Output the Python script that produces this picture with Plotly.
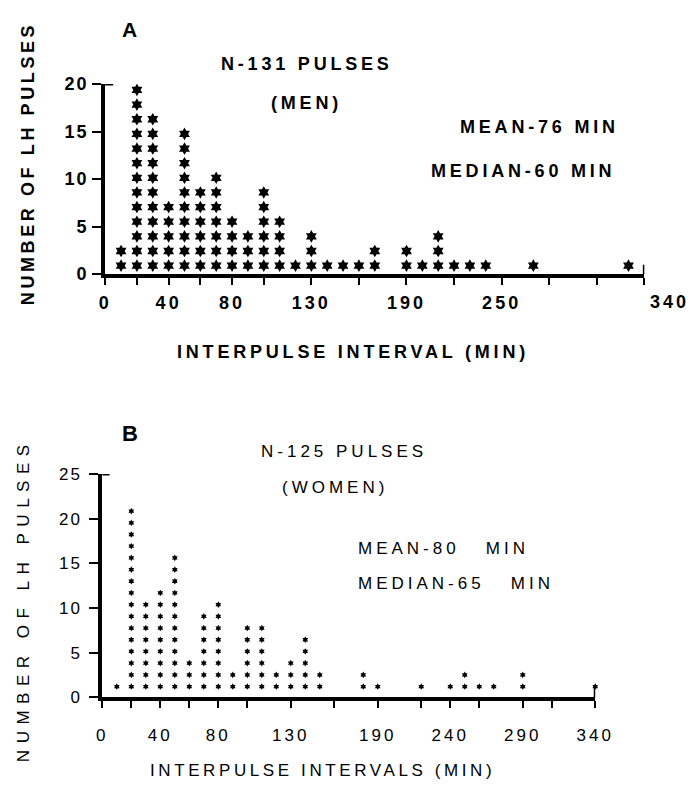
import plotly.graph_objects as go

# ---------------- data ----------------
# Panel A (men): interpulse interval bins (min) and number of asterisks stacked in each bin
men_interval = [10, 20, 30, 40, 50, 60, 70, 80, 90, 100, 110, 120, 130, 140, 150, 160,
                170, 190, 200, 210, 220, 230, 240, 270, 330]
men_stars = [2, 13, 11, 5, 10, 6, 7, 4, 3, 6, 4, 1, 3, 1, 1, 1,
             2, 2, 1, 3, 1, 1, 1, 1, 1]

# Panel B (women)
women_interval = [10, 20, 30, 40, 50, 60, 70, 80, 90, 100, 110, 120, 130, 140, 150,
                  180, 190, 220, 240, 250, 260, 270, 290, 340]
women_stars = [1, 16, 8, 9, 12, 3, 7, 8, 2, 6, 6, 2, 3, 5, 2,
               2, 1, 1, 1, 2, 1, 1, 2, 1]

a_ytick_vals = [0, 5, 10, 15, 20]
a_xtick_vals = [0, 20, 40, 60, 80, 100, 130, 160, 190, 220, 250, 280, 310, 340]
a_xtick_labels = ["0", "", "40", "", "80", "", "130", "", "190", "", "250", "", "", ""]
a_last_label = "340"

b_ytick_vals = [0, 5, 10, 15, 20, 25]
b_xtick_vals = [0, 20, 40, 60, 80, 100, 130, 160, 190, 220, 240, 260, 290, 310, 340]
b_xtick_labels = ["0", "", "40", "", "80", "", "130", "", "190", "", "240", "", "290", "", "340"]

# ---------------- styling helpers ----------------
W, H = 698, 795
FONT = "Liberation Sans"


def ls(text, sp):
    return '<span style="letter-spacing:%spx">%s</span>' % (sp, text)


def px(x):
    return x / W


def py(y):
    return 1 - y / H


def stack(intervals, stars, base, step):
    xs, ys = [], []
    for x, n in zip(intervals, stars):
        for k in range(n):
            xs.append(x)
            ys.append(base + k * step)
    return xs, ys


fig = go.Figure()

ax, ay = stack(men_interval, men_stars, 0.9, 1.54)
fig.add_trace(go.Scatter(x=ax, y=ay, mode="markers", xaxis="x", yaxis="y",
                         marker=dict(symbol="hexagram", size=9.5, color="black",
                                     line=dict(width=0)),
                         showlegend=False, cliponaxis=False, hoverinfo="skip"))

bx, by = stack(women_interval, women_stars, 1.2, 1.31)
fig.add_trace(go.Scatter(x=bx, y=by, mode="markers", xaxis="x2", yaxis="y2",
                         marker=dict(symbol="hexagram", size=5, color="black",
                                     line=dict(width=0)),
                         showlegend=False, cliponaxis=False, hoverinfo="skip"))

bold_tick = dict(family=FONT, size=18, color="black", weight="bold")
reg_tick = dict(family=FONT, size=17, color="black")

fig.update_layout(
    width=W, height=H,
    margin=dict(l=0, r=0, t=0, b=0),
    paper_bgcolor="white", plot_bgcolor="white",
    showlegend=False,
    xaxis=dict(domain=[px(102), px(662)], range=[0, 340], anchor="y",
               showline=True, linewidth=4, linecolor="black",
               showgrid=False, zeroline=False,
               ticks="outside", ticklen=7, tickwidth=2, tickcolor="black",
               tickmode="array", tickvals=a_xtick_vals,
               ticktext=[ls(t, 3) for t in a_xtick_labels],
               tickfont=bold_tick, ticklabelstandoff=2),
    yaxis=dict(domain=[py(271), py(76)], range=[0, 20], anchor="x",
               showline=True, linewidth=4, linecolor="black",
               showgrid=False, zeroline=False,
               ticks="outside", ticklen=9, tickwidth=2, tickcolor="black",
               tickmode="array", tickvals=a_ytick_vals,
               ticktext=[ls(str(v), 2) for v in a_ytick_vals],
               tickfont=bold_tick),
    xaxis2=dict(domain=[px(99), px(611)], range=[0, 340], anchor="y2",
                showline=True, linewidth=4, linecolor="black",
                showgrid=False, zeroline=False,
                ticks="outside", ticklen=7, tickwidth=2, tickcolor="black",
                tickmode="array", tickvals=b_xtick_vals,
                ticktext=[ls(t, 3) for t in b_xtick_labels],
                tickfont=reg_tick, ticklabelstandoff=12),
    yaxis2=dict(domain=[py(705), py(476)], range=[0, 25], anchor="x2",
                showline=True, linewidth=4, linecolor="black",
                showgrid=False, zeroline=False,
                ticks="outside", ticklen=9, tickwidth=2, tickcolor="black",
                tickmode="array", tickvals=b_ytick_vals,
                ticktext=[ls(str(v), 2) for v in b_ytick_vals],
                tickfont=reg_tick, ticklabelstandoff=4),
)

# caps at axis ends
fig.add_shape(type="line", xref="x", yref="y", x0=-4, x1=5, y0=20, y1=20,
              line=dict(color="black", width=3))
fig.add_shape(type="line", xref="x", yref="y", x0=340, x1=340, y0=-0.8, y1=1,
              line=dict(color="black", width=3))
fig.add_shape(type="line", xref="x2", yref="y2", x0=-4, x1=5, y0=25, y1=25,
              line=dict(color="black", width=3))
fig.add_shape(type="line", xref="x2", yref="y2", x0=340, x1=340, y0=-0.8, y1=1,
              line=dict(color="black", width=3))

bold = dict(family=FONT, size=18, color="black", weight="bold")
reg = dict(family=FONT, size=17, color="black")


def note(text, x, y, font, xanchor="center", angle=0):
    fig.add_annotation(text=text, x=px(x), y=py(y), xref="paper", yref="paper",
                       showarrow=False, font=font, xanchor=xanchor, yanchor="middle",
                       textangle=angle)


# last tick label of panel A sits right of the axis end in the original
note(ls(a_last_label, 3), 688, 300, bold_tick)

# Panel A texts
note("A", 127, 20, dict(family=FONT, size=21, color="black", weight="bold"))
note(ls("N-131 PULSES", 3.8), 312, 55, bold)
note(ls("(MEN)", 3.8), 311, 95, bold)
note(ls("MEAN-76 MIN", 3.8), 553, 120, bold)
note(ls("MEDIAN-60 MIN", 3.8), 536, 165, bold)
note(ls("NUMBER OF LH PULSES", 3.6), 22, 158, bold, angle=-90)
note(ls("INTERPULSE INTERVAL (MIN)", 3.8), 359, 351, bold)

# Panel B texts
note("B", 128, 434, dict(family=FONT, size=22, color="black", weight="bold"))
note(ls("N-125 PULSES", 4), 350, 453, reg)
note(ls("(WOMEN)", 4), 341, 490, reg)
note(ls("MEAN-80\u00a0\u00a0\u00a0MIN", 4), 363, 552, reg, xanchor="left")
note(ls("MEDIAN-65\u00a0\u00a0\u00a0MIN", 4), 363, 588, reg, xanchor="left")
note(ls("NUMBER OF LH PULSES", 6.5), 17, 605, reg, angle=-90)
note(ls("INTERPULSE INTERVALS (MIN)", 3.6), 328, 780, reg)

fig.write_html("out.html")
